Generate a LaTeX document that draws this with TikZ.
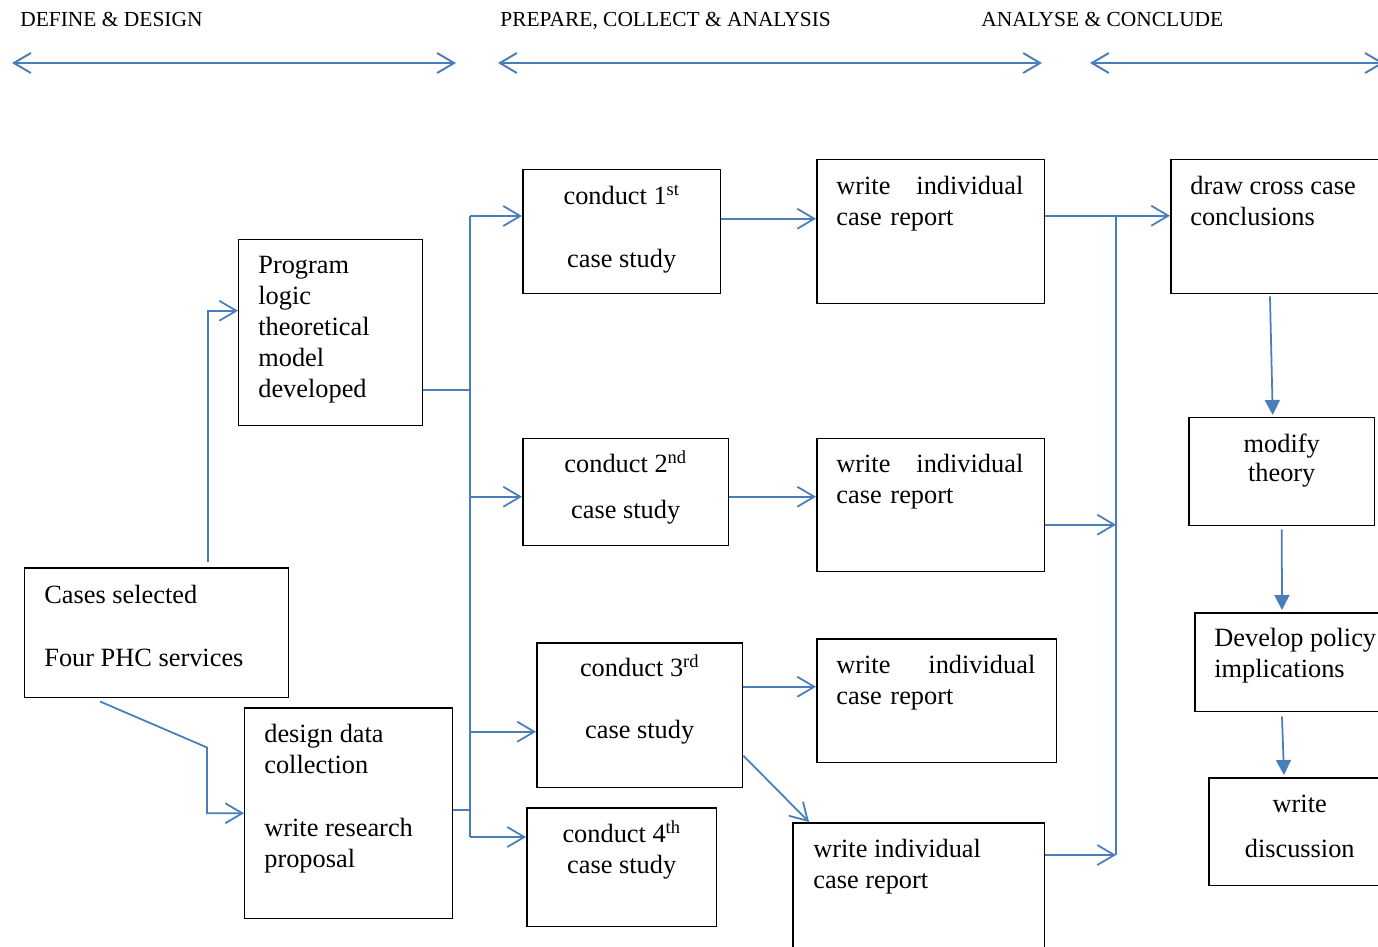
\documentclass[tikz,border=0pt]{standalone}
\usepackage{fontspec}
\setmainfont{Liberation Serif}
\usetikzlibrary{arrows.meta,calc}
\definecolor{linkblue}{RGB}{74,126,187}
\tikzset{
  box/.style={draw, line width=0.85pt, inner sep=0pt, anchor=north west},
  txt/.style={inner sep=0pt, font=\fontsize{15}{17.6}\selectfont, execute at begin node=\strut},
  hdr/.style={inner sep=0pt, anchor=base west, font=\fontsize{12.2}{14}\selectfont},
  link/.style={draw=linkblue, line width=1pt},
  span/.style={draw=linkblue, line width=1.1pt, <->},
  drop/.style={draw=linkblue, line width=1pt, -{Triangle[length=0.3cm,width=0.3cm]}},
}
\begin{document}
\begin{tikzpicture}[x=0.02cm, y=-0.02cm, >={Straight Barb[length=0.34cm,width=0.4cm]}]
\useasboundingbox (0,0) rectangle (1378,946);
\clip (0,0) rectangle (1378,946);
\node[hdr] (hdefine) at (20,27) {DEFINE \& DESIGN};
\node[hdr] (hprep)   at (500,27) {PREPARE, COLLECT \& ANALYSIS};
\node[hdr] (hconcl)  at (981,27) {ANALYSE \& CONCLUDE};
\foreach \a/\b in {12/456,498/1042,1090/1384}{\draw[span] (\a,63) -- (\b,63);}
% boxes
\node[box, minimum width=5.28cm, minimum height=2.6cm]  (cs) at (24,567) {};
\node[box, minimum width=3.68cm, minimum height=3.72cm] (pl) at (238,239) {};
\node[box, minimum width=4.16cm, minimum height=4.22cm] (dd) at (244,707) {};
\node[box, minimum width=3.96cm, minimum height=2.48cm] (c1) at (522,169) {};
\node[box, minimum width=4.12cm, minimum height=2.14cm] (c2) at (522,438) {};
\node[box, minimum width=4.12cm, minimum height=2.9cm]  (c3) at (536,642) {};
\node[box, minimum width=3.8cm,  minimum height=2.38cm] (c4) at (526,807) {};
\node[box, minimum width=4.56cm, minimum height=2.88cm] (w1) at (816,159) {};
\node[box, minimum width=4.56cm, minimum height=2.66cm] (w2) at (816,438) {};
\node[box, minimum width=4.8cm,  minimum height=2.48cm] (w3) at (816,638) {};
\node[box, minimum width=5.04cm, minimum height=2.8cm]  (w4) at (792,822) {};
\node[box, minimum width=4.6cm,  minimum height=2.68cm] (dc) at (1170,159) {};
\node[box, minimum width=3.72cm, minimum height=2.16cm] (mt) at (1188,417) {};
\node[box, minimum width=4.12cm, minimum height=1.98cm] (dp) at (1194,612) {};
\node[box, minimum width=3.64cm, minimum height=2.16cm] (wd) at (1208,777) {};
% texts
\node[txt, anchor=north west, align=left] (cstxt) at ([xshift=0.4cm,yshift=-0.35cm]cs.north west) {Cases selected\\[0.64cm]Four PHC services};
\node[txt, anchor=north west, align=left] (pltxt) at ([xshift=0.4cm,yshift=-0.34cm]pl.north west) {Program\\logic\\theoretical\\model\\developed};
\node[txt, anchor=north west, align=left] (ddtxt) at ([xshift=0.4cm,yshift=-0.34cm]dd.north west) {design data\\collection\\[0.64cm]write research\\proposal};
\node[txt, anchor=north, align=center] (c1txt) at ([yshift=-0.31cm]c1.north) {conduct 1\textsuperscript{st}\\[0.64cm]case study};
\node[txt, anchor=north, align=center] (c2txt) at ([yshift=-0.25cm]c2.north) {conduct 2\textsuperscript{nd}\\[0.3cm]case study};
\node[txt, anchor=north, align=center] (c3txt) at ([yshift=-0.25cm]c3.north) {conduct 3\textsuperscript{rd}\\[0.62cm]case study};
\node[txt, anchor=north, align=center] (c4txt) at ([yshift=-0.27cm]c4.north) {conduct 4\textsuperscript{th}\\case study};
\node[txt, anchor=north west, align=left, text width=3.74cm] (w1txt) at ([xshift=0.4cm,yshift=-0.27cm]w1.north west) {write\hfill individual\\case report};
\node[txt, anchor=north west, align=left, text width=3.74cm] (w2txt) at ([xshift=0.4cm,yshift=-0.25cm]w2.north west) {write\hfill individual\\case report};
\node[txt, anchor=north west, align=left, text width=3.98cm] (w3txt) at ([xshift=0.4cm,yshift=-0.27cm]w3.north west) {write\hfill individual\\case report};
\node[txt, anchor=north west, align=left] (w4txt) at ([xshift=0.42cm,yshift=-0.33cm]w4.north west) {write individual\\case report};
\node[txt, anchor=north west, align=left] (dctxt) at ([xshift=0.4cm,yshift=-0.33cm]dc.north west) {draw cross case\\conclusions};
\node[txt, anchor=north, align=center] (mttxt) at ([yshift=-0.34cm]mt.north) {modify\\[-0.04cm]theory};
\node[txt, anchor=north west, align=left] (dptxt) at ([xshift=0.4cm,yshift=-0.32cm]dp.north west) {Develop policy\\implications};
\node[txt, anchor=north, align=center] (wdtxt) at ([yshift=-0.35cm]wd.north) {write\\[0.28cm]discussion};
% left side
\draw[link,->] ([xshift=3.68cm,yshift=0.1cm]cs.north west) |- ([yshift=0.44cm]pl.west);
\draw[link,->] ([xshift=1.52cm,yshift=-0.06cm]cs.south west) -- ++(107,46) |- (dd.west);
\coordinate (bustop) at (470,216);
\coordinate (busbot) at (470,837);
\draw[link, line width=1.1pt] (bustop) -- (busbot);
\draw[link] ([yshift=-1.14cm]pl.east) -- ([yshift=-1.14cm]pl.east -| bustop);
\draw[link] ([yshift=0.07cm]dd.east) -- ([yshift=0.07cm]dd.east -| bustop);
\draw[link,->] (bustop) -- (bustop -| c1.west);
\draw[link,->] ([yshift=-0.09cm]c2.west -| bustop) -- ([yshift=-0.09cm]c2.west);
\draw[link,->] ([yshift=-0.33cm]c3.west -| bustop) -- ([yshift=-0.33cm]c3.west);
\draw[link,->] (busbot) -- (busbot -| c4.west);
% middle
\draw[link,->] ([yshift=0.26cm]c1.east) -- ([yshift=0.26cm]c1.east -| w1.west);
\draw[link,->] ([yshift=-0.09cm]c2.east) -- ([yshift=-0.09cm]c2.east -| w2.west);
\draw[link,->] ([yshift=0.57cm]c3.east) -- ([yshift=0.57cm]c3.east -| w3.west);
\draw[link,->] ([yshift=-0.81cm]c3.east) -- ([xshift=0.34cm]w4.north west);
% right side
\coordinate (coltop) at (1116,215);
\coordinate (colbot) at (1116,855);
\draw[link, line width=1.1pt] (coltop) -- (colbot);
\draw[link,->] ([yshift=0.32cm]w1.east) -- ([yshift=0.32cm]w1.east -| dc.west);
\draw[link,->] ([yshift=-0.39cm]w2.east) -- ([yshift=-0.39cm]w2.east -| coltop);
\draw[link,->] (colbot -| w4.east) -- (colbot);
\draw[drop] ([xshift=2cm,yshift=-0.04cm]dc.south west) -- ([xshift=-0.18cm,yshift=0.04cm]mt.north);
\draw[drop] ([yshift=-0.06cm]mt.south) -- ([xshift=1.76cm,yshift=0.04cm]dp.north west);
\draw[drop] ([xshift=1.76cm,yshift=-0.08cm]dp.south west) -- ([xshift=1.52cm,yshift=0.04cm]wd.north west);
\end{tikzpicture}
\end{document}
